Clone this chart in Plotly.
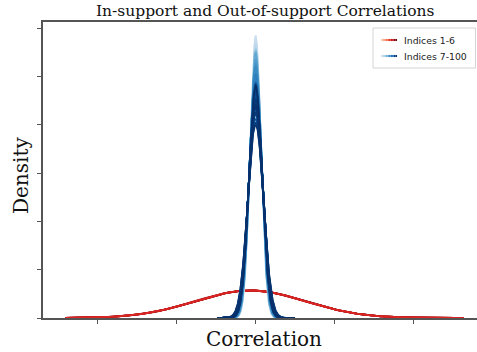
import numpy as np
import plotly.graph_objects as go
from plotly.colors import sample_colorscale, sequential

# ---------------- data ----------------
x_ticks = [-1.0, -0.5, 0.0, 0.5, 1.0]
y_ticks = [0, 2, 4, 6, 8, 10, 12]

# in-support (indices 1-6): broad densities
red_centers = [-0.030, -0.028, -0.032, -0.029, -0.031, -0.030]
red_sigmas = [0.350, 0.349, 0.351, 0.348, 0.350, 0.349]
red_x_range = [-1.20, 1.32]

# out-of-support (indices 7-100): narrow densities, peak heights
blue_center = 0.004
blue_peaks = [
    11.70, 11.45, 11.20, 11.55, 10.90, 11.30, 10.60, 11.05, 11.35, 10.45,
    10.80, 10.20, 11.00, 10.70, 10.05, 10.55, 11.15, 9.85, 10.35, 10.95,
    9.60, 10.25, 10.75, 9.95, 10.50, 11.10, 9.40, 10.15, 10.65, 9.75,
    10.40, 10.85, 9.20, 10.00, 10.60, 9.55, 10.30, 11.00, 9.90, 9.35,
    10.45, 10.10, 9.65, 10.70, 9.10, 10.20, 9.80, 10.55, 8.95, 10.35,
    9.70, 10.05, 10.40, 9.30, 9.85, 10.05, 8.80, 10.10, 9.60, 9.80,
    9.15, 9.70, 9.45, 9.35, 8.60, 9.50, 9.25, 9.40, 8.90, 9.60,
    9.05, 9.20, 9.75, 8.45, 9.10, 9.35, 8.85, 9.15, 9.50, 8.25,
    8.95, 9.30, 8.70, 9.00, 9.40, 8.10, 8.90, 8.75, 9.55, 8.50,
    9.05, 8.00, 8.80, 9.65,
]
blue_x_range = [-0.24, 0.25]

legend_labels = ["Indices 1-6", "Indices 7-100"]

# ---------------- figure ----------------
W, H = 477, 352
L, R, T, B = 43, 0, 22, 34
X0, X1 = (43 - 255) / 158.0, (477 - 255) / 158.0
Y1 = 296 / 24.15


def gauss(x, mu, s):
    return np.exp(-0.5 * ((x - mu) / s) ** 2) / (s * np.sqrt(2 * np.pi))


fig = go.Figure()

red_cols = sample_colorscale(sequential.Reds, list(np.linspace(1.0, 0.70, len(red_centers))))
xr = np.linspace(red_x_range[0], red_x_range[1], 500)
for mu, s, c in zip(red_centers, red_sigmas, red_cols):
    fig.add_trace(go.Scatter(x=xr, y=gauss(xr, mu, s), mode="lines",
                             line=dict(color=c, width=1.8), showlegend=False,
                             hoverinfo="skip"))

blue_cols = sample_colorscale(sequential.Blues, list(np.linspace(0.22, 1.0, len(blue_peaks))))
xb = np.linspace(blue_x_range[0], blue_x_range[1], 400)
for pk, c in zip(blue_peaks, blue_cols):
    s = 1.0 / (pk * np.sqrt(2 * np.pi))
    fig.add_trace(go.Scatter(x=xb, y=gauss(xb, blue_center, s), mode="lines",
                             line=dict(color=c, width=1.6), showlegend=False,
                             hoverinfo="skip"))

pw, ph = W - L - R, H - T - B


def px(xp):  # image x pixel -> paper
    return (xp - L) / pw


def py(yp):  # image y pixel -> paper
    return (H - B - yp) / ph


shapes = []
shapes.append(dict(type="rect", xref="paper", yref="paper",
                   x0=px(373), x1=px(475.5), y0=py(68), y1=py(28),
                   line=dict(color="#d4d4d4", width=1), fillcolor="rgba(255,255,255,0.85)",
                   layer="above"))
n_seg = 10
for scale, yy in [(sequential.Reds, 40), (sequential.Blues, 56)]:
    cols = sample_colorscale(scale, list(np.linspace(0.2, 1.0, n_seg)))
    xs = np.linspace(381, 397, n_seg + 1)
    for i in range(n_seg):
        shapes.append(dict(type="line", xref="paper", yref="paper",
                           x0=px(xs[i]), x1=px(xs[i + 1]), y0=py(yy), y1=py(yy),
                           line=dict(color=cols[i], width=2.2), layer="above"))

annotations = [
    dict(text="In-support and Out-of-support Correlations", xref="paper", yref="paper",
         x=px(265), y=py(11), showarrow=False, xanchor="center", yanchor="middle",
         font=dict(family="DejaVu Serif", size=15.5, color="#111")),
    dict(text="Correlation", xref="paper", yref="paper",
         x=px(264), y=py(339), showarrow=False, xanchor="center", yanchor="middle",
         font=dict(family="DejaVu Serif", size=20, color="#111")),
    dict(text="Density", xref="paper", yref="paper", textangle=-90,
         x=px(21), y=py(176), showarrow=False, xanchor="center", yanchor="middle",
         font=dict(family="DejaVu Serif", size=20, color="#111")),
]
for lab, yy in zip(legend_labels, [40, 56]):
    annotations.append(dict(text=lab, xref="paper", yref="paper", x=px(402), y=py(yy),
                            showarrow=False, xanchor="left", yanchor="middle",
                            font=dict(family="DejaVu Sans", size=9.3, color="#222")))

fig.update_layout(
    width=W, height=H,
    margin=dict(l=L, r=R, t=T, b=B, pad=0),
    paper_bgcolor="white", plot_bgcolor="white",
    showlegend=False,
    shapes=shapes, annotations=annotations,
    xaxis=dict(range=[X0, X1], tickvals=x_ticks, showticklabels=False,
               ticks="outside", ticklen=4, tickwidth=1, tickcolor="#555",
               showline=True, linecolor="#555", linewidth=1.5, mirror=True,
               showgrid=False, zeroline=False),
    yaxis=dict(range=[0, Y1], tickvals=y_ticks, showticklabels=False,
               ticks="outside", ticklen=4, tickwidth=1, tickcolor="#555",
               showline=True, linecolor="#555", linewidth=1.5,
               showgrid=False, zeroline=False),
)

fig.write_html(
    "out.html",
    config={"displayModeBar": False},
    post_script="document.body.style.margin='0';document.body.style.padding='0';"
                "document.documentElement.style.overflow='hidden';",
)
